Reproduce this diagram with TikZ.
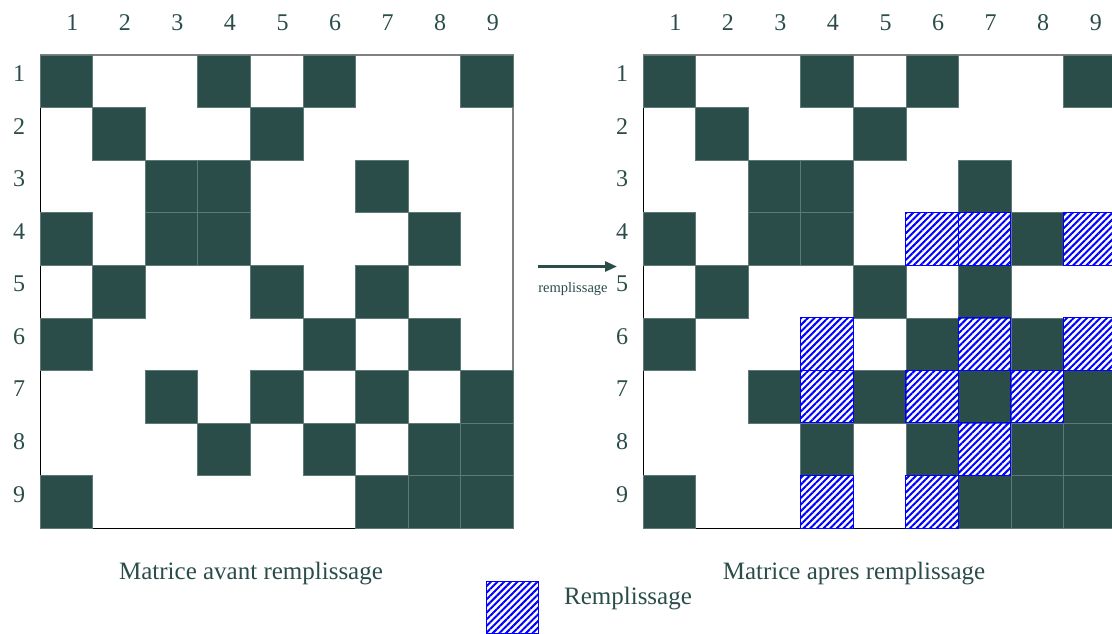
\documentclass[tikz,border=0pt]{standalone}
\usepackage{fontspec}
\setmainfont{Liberation Serif}
\usetikzlibrary{patterns.meta,arrows.meta}

\definecolor{sapin}{RGB}{42,77,74}
\newcommand\cellsz{52.56}

\begin{document}
\begin{tikzpicture}[x=1pt,y=-1pt,
    plein/.style={fill=sapin,draw=sapin!75!white,line width=.4pt},
    hachure/.style={pattern={Lines[angle=45,distance=4.7pt,line width=2pt]},pattern color=blue,draw=blue,line width=1pt},
    indice/.style={text=sapin,font=\fontsize{24}{28}\selectfont},
    titre/.style={text=sapin,font=\fontsize{25}{30}\selectfont},
    fleche/.style={-{Triangle[length=12pt,width=10pt]},sapin,line width=2.8pt},
  ]
    \useasboundingbox (0,0) rectangle (1112,634);
    % Same sparsity pattern on both sides, the right copy gets the fill-in on top.
    \foreach \ox in {40,643} {
      \draw[gray,line width=1.2pt] (\ox,55) -- ({\ox+9*\cellsz},55) -- ({\ox+9*\cellsz},{55+9*\cellsz});
      \draw[black,line width=1pt] (\ox,55) -- (\ox,{55+9*\cellsz}) -- ({\ox+9*\cellsz},{55+9*\cellsz});
      \foreach \r/\c in {1/1,1/4,1/6,1/9, 2/2,2/5, 3/3,3/4,3/7, 4/1,4/3,4/4,4/8,
                         5/2,5/5,5/7, 6/1,6/6,6/8, 7/3,7/5,7/7,7/9, 8/4,8/6,8/8,8/9,
                         9/1,9/7,9/8,9/9}
        \draw[plein] ({\ox+(\c-1)*\cellsz},{55+(\r-1)*\cellsz}) rectangle ++(\cellsz,\cellsz);
      \foreach \k in {1,...,9} {
        \node[indice] (col-\ox-\k) at ({\ox+(\k-.5)*\cellsz+6},23) {\k};
        \node[indice] (lig-\ox-\k) at ({\ox-21},{55+(\k-.5)*\cellsz-7.5}) {\k};
      }
    }
    % fill-in entries (symmetric)
    \foreach \r/\c in {4/6,4/7,4/9, 6/4,6/7,6/9, 7/4,7/6,7/8, 8/7, 9/4,9/6}
      \draw[hachure] ({643+(\c-1)*\cellsz},{55+(\r-1)*\cellsz}) rectangle ++(\cellsz,\cellsz);

    \node[titre] (avant) at (251,574) {Matrice avant remplissage};
    \node[titre] (apres) at (854,574) {Matrice apres remplissage};

    \coordinate (depart) at (538,266.5);
    \coordinate (arrivee) at (617,266.5);
    \draw[fleche] (depart) -- (arrivee);
    \node[text=sapin,font=\fontsize{14.5}{17}\selectfont] (etiquette) at (573,289) {remplissage};

    % legend
    \draw[hachure] (486,581) rectangle (538,633);
    \node[titre] (legende) at (628,599) {Remplissage};
  \end{tikzpicture}
\end{document}
